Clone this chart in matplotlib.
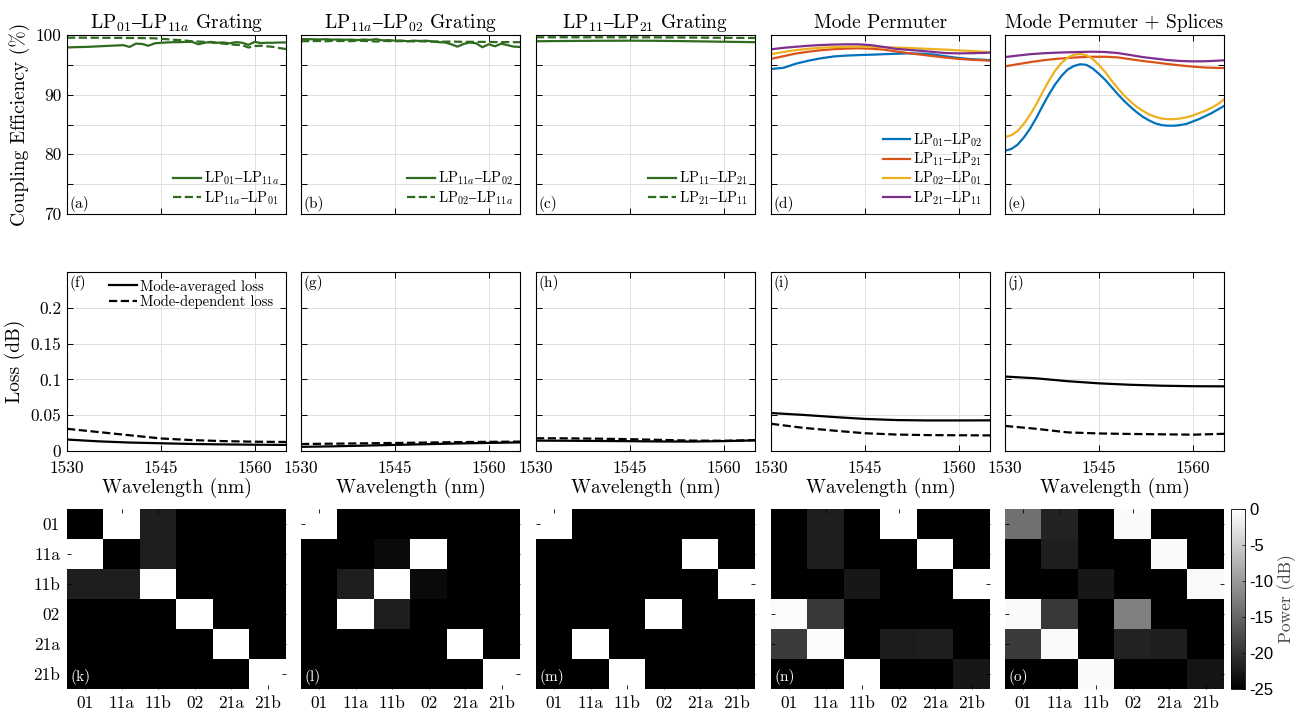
import numpy as np
import matplotlib
matplotlib.use('Agg')
import matplotlib.pyplot as plt

plt.rcParams['font.family'] = ['cmr10', 'DejaVu Serif']
plt.rcParams['mathtext.fontset'] = 'cm'
plt.rcParams['axes.formatter.use_mathtext'] = True
plt.rcParams['axes.unicode_minus'] = False

# ---------------- data ----------------
wl_1nm = list(range(1530, 1566))
wl_2nm = list(range(1530, 1565, 2)) + [1565]
wl_5nm = list(range(1530, 1566, 5))

titles = [r'LP$_{01}–$LP$_{11a}$ Grating', r'LP$_{11a}–$LP$_{02}$ Grating',
          r'LP$_{11}–$LP$_{21}$ Grating', 'Mode Permuter', 'Mode Permuter + Splices']

# (a) LP01-LP11a grating
a_fwd = [97.9, 97.95, 97.98, 98.0, 98.05, 98.1, 98.15, 98.2, 98.25, 98.3, 98.0, 98.55,
         98.5, 98.2, 98.6, 98.7, 98.75, 98.8, 98.8, 98.85, 98.85, 98.45, 98.7, 98.85,
         98.7, 98.75, 98.6, 98.8, 98.7, 98.35, 98.85, 98.65, 98.7, 98.7, 98.75, 98.75]
a_bwd = [99.55, 99.55, 99.55, 99.55, 99.54, 99.54, 99.53, 99.53, 99.52, 99.52, 99.5, 99.5,
         99.48, 99.47, 99.45, 99.35, 99.3, 99.2, 99.15, 99.05, 98.95, 98.9, 98.85, 98.75,
         98.65, 98.55, 98.45, 98.35, 98.3, 97.9, 98.15, 98.2, 98.1, 98.0, 97.8, 97.65]
# (b) LP11a-LP02 grating
b_fwd = [99.33, 99.3, 99.28, 99.25, 99.3, 99.22, 99.25, 99.2, 99.23, 99.15, 99.25, 99.18,
         99.3, 99.1, 99.15, 99.05, 99.08, 98.95, 99.05, 99.0, 99.05, 98.9, 98.8, 98.75,
         98.45, 98.05, 98.5, 98.75, 98.6, 97.95, 98.45, 98.1, 98.55, 98.3, 98.05, 98.0]
b_bwd = [98.95, 98.97, 98.98, 99.0, 98.95, 99.02, 98.98, 99.0, 98.96, 99.05, 99.0, 98.98,
         98.9, 99.0, 98.98, 98.95, 98.97, 98.95, 98.93, 98.95, 98.92, 98.9, 98.92, 98.88,
         98.9, 98.87, 98.85, 98.86, 98.84, 98.85, 98.83, 98.82, 98.8, 98.82, 98.8, 98.8]
# (c) LP11-LP21 grating
c_fwd = [98.95, 99.0, 99.03, 99.05, 99.02, 98.95, 98.87, 98.8]
c_bwd = [99.62, 99.62, 99.62, 99.62, 99.6, 99.57, 99.53, 99.5]
# (d) Mode permuter
d_01_02 = [94.3, 94.5, 95.2, 95.7, 96.1, 96.4, 96.55, 96.63, 96.7, 96.78, 96.86, 96.92,
           96.88, 96.72, 96.42, 96.15, 95.95, 95.85, 95.8]
d_11_21 = [96.0, 96.45, 96.9, 97.2, 97.45, 97.62, 97.72, 97.77, 97.7, 97.55, 97.25, 96.95,
           96.7, 96.45, 96.2, 96.0, 95.85, 95.75, 95.7]
d_02_01 = [96.8, 97.15, 97.47, 97.7, 97.86, 97.96, 98.02, 98.05, 98.03, 97.96, 97.89, 97.82,
           97.73, 97.64, 97.54, 97.43, 97.32, 97.18, 97.1]
d_21_11 = [97.6, 97.85, 98.03, 98.2, 98.32, 98.4, 98.44, 98.44, 98.3, 98.0, 97.68, 97.5,
           97.35, 97.15, 96.97, 96.92, 96.95, 97.0, 97.05]
# (e) Mode permuter + splices
e_01_02 = [80.6, 80.9, 81.6, 82.8, 84.3, 86.1, 88.1, 90.0, 91.7, 93.1, 94.2, 94.8,
           95.1, 95.0, 94.4, 93.5, 92.5, 91.3, 90.1, 89.0, 88.0, 87.1, 86.3, 85.7,
           85.2, 84.9, 84.8, 84.8, 84.9, 85.1, 85.5, 85.9, 86.4, 86.9, 87.5, 88.1]
e_02_01 = [82.9, 83.2, 83.9, 85.1, 86.6, 88.4, 90.4, 92.3, 94.0, 95.3, 96.2, 96.7,
           96.8, 96.6, 96.0, 95.0, 93.8, 92.4, 91.1, 89.9, 88.9, 88.0, 87.3, 86.7,
           86.3, 86.0, 85.9, 85.9, 86.0, 86.2, 86.5, 86.9, 87.3, 87.8, 88.4, 89.2]
e_11_21 = [94.75, 95.1, 95.45, 95.75, 95.98, 96.15, 96.28, 96.35, 96.35, 96.25, 95.95, 95.65,
           95.4, 95.14, 94.9, 94.7, 94.55, 94.48, 94.47]
e_21_11 = [96.3, 96.55, 96.78, 96.93, 97.03, 97.1, 97.15, 97.2, 97.15, 96.98, 96.65, 96.3,
           96.05, 95.8, 95.65, 95.58, 95.6, 95.7, 95.76]

# Loss (dB): mode-averaged loss (mal) / mode-dependent loss (mdl)
f_mal = [0.016, 0.0135, 0.0118, 0.0108, 0.0098, 0.0092, 0.0088, 0.0085]
f_mdl = [0.031, 0.0265, 0.022, 0.0175, 0.0152, 0.0138, 0.013, 0.0126]
g_mal = [0.0058, 0.0065, 0.0075, 0.0085, 0.0095, 0.0105, 0.0113, 0.012]
g_mdl = [0.0098, 0.0102, 0.0107, 0.0112, 0.0118, 0.0124, 0.0128, 0.0131]
h_mal = [0.0145, 0.0143, 0.014, 0.0137, 0.0133, 0.0132, 0.0138, 0.0148]
h_mdl = [0.0178, 0.0177, 0.0172, 0.0165, 0.0155, 0.0145, 0.0143, 0.0152]
i_mal = [0.053, 0.0505, 0.0475, 0.0448, 0.0432, 0.0427, 0.0427, 0.0428]
i_mdl = [0.038, 0.0325, 0.0285, 0.0248, 0.023, 0.0222, 0.022, 0.0218]
j_mal = [0.104, 0.1015, 0.0975, 0.0945, 0.0925, 0.0912, 0.0905, 0.0903]
j_mdl = [0.035, 0.031, 0.026, 0.0245, 0.0238, 0.0233, 0.0228, 0.024]

# Power transfer matrices (dB)
modes = ['01', '11a', '11b', '02', '21a', '21b']
k_mat = [[-25, 0, -22, -25, -25, -25],
         [0, -25, -22, -25, -25, -25],
         [-22, -22, 0, -25, -25, -25],
         [-25, -25, -25, 0, -25, -25],
         [-25, -25, -25, -25, 0, -25],
         [-25, -25, -25, -25, -25, 0]]
l_mat = [[0, -25, -25, -25, -25, -25],
         [-25, -25, -24, 0, -25, -25],
         [-25, -22, 0, -24, -25, -25],
         [-25, 0, -22, -25, -25, -25],
         [-25, -25, -25, -25, 0, -25],
         [-25, -25, -25, -25, -25, 0]]
m_mat = [[0, -25, -25, -25, -25, -25],
         [-25, -25, -25, -25, 0, -25],
         [-25, -25, -25, -25, -25, 0],
         [-25, -25, -25, 0, -25, -25],
         [-25, 0, -25, -25, -25, -25],
         [-25, -25, 0, -25, -25, -25]]
n_mat = [[-25, -22, -25, 0, -25, -25],
         [-25, -22, -25, -25, 0, -25],
         [-25, -25, -22.7, -25, -25, 0],
         [-0.4, -19.5, -25, -25, -25, -25],
         [-19.2, -0.3, -25, -22.2, -22, -25],
         [-25, -25, 0, -25, -25, -22.7]]
o_mat = [[-14, -21.5, -25, -0.5, -25, -25],
         [-25, -22, -25, -25, -0.5, -25],
         [-25, -25, -22.7, -25, -25, -0.5],
         [-0.5, -19.5, -25, -12.5, -25, -25],
         [-19.2, -0.5, -25, -21.6, -22, -25],
         [-25, -25, -0.5, -25, -25, -23]]

# ---------------- styling ----------------
GREEN = '#2f6b1f'
C_BLUE, C_RED, C_YEL, C_PUR = '#0072BD', '#D95319', '#EDB120', '#7E2F8E'
GRID = '#e0e0e0'

W, H = 1302, 710
fig = plt.figure(figsize=(W / 100, H / 100), dpi=100)

col_x = [67, 301, 536, 771, 1005]
pw = 219
rows_top = [35, 272, 509]
ph = 179


def add_ax(ci, ri, hgt=ph):
    return fig.add_axes([col_x[ci] / W, 1 - (rows_top[ri] + hgt) / H, pw / W, hgt / H])


def style_line_ax(ax, xpad=4):
    ax.set_xlim(1530, 1565)
    ax.set_xticks([1530, 1545, 1560])
    ax.grid(True, color=GRID, lw=0.7)
    ax.set_axisbelow(True)
    ax.tick_params(direction='in', top=True, right=True, length=4, width=0.7,
                   labelsize=12.5, pad=4)
    ax.tick_params(axis='x', pad=xpad)
    for s in ax.spines.values():
        s.set_linewidth(0.8)


leg_kw = dict(frameon=False, fontsize=10.5, handlelength=1.9, handletextpad=0.2,
              labelspacing=0.12, borderaxespad=0.3, borderpad=0.2)

top_series = [
    [(wl_1nm, a_fwd, '-', GREEN, r'LP$_{01}–$LP$_{11a}$'),
     (wl_1nm, a_bwd, '--', GREEN, r'LP$_{11a}–$LP$_{01}$')],
    [(wl_1nm, b_fwd, '-', GREEN, r'LP$_{11a}–$LP$_{02}$'),
     (wl_1nm, b_bwd, '--', GREEN, r'LP$_{02}–$LP$_{11a}$')],
    [(wl_5nm, c_fwd, '-', GREEN, r'LP$_{11}–$LP$_{21}$'),
     (wl_5nm, c_bwd, '--', GREEN, r'LP$_{21}–$LP$_{11}$')],
    [(wl_2nm, d_01_02, '-', C_BLUE, r'LP$_{01}–$LP$_{02}$'),
     (wl_2nm, d_11_21, '-', C_RED, r'LP$_{11}–$LP$_{21}$'),
     (wl_2nm, d_02_01, '-', C_YEL, r'LP$_{02}–$LP$_{01}$'),
     (wl_2nm, d_21_11, '-', C_PUR, r'LP$_{21}–$LP$_{11}$')],
    [(wl_1nm, e_01_02, '-', C_BLUE, None),
     (wl_2nm, e_11_21, '-', C_RED, None),
     (wl_1nm, e_02_01, '-', C_YEL, None),
     (wl_2nm, e_21_11, '-', C_PUR, None)],
]
top_letters = ['(a)', '(b)', '(c)', '(d)', '(e)']
for ci in range(5):
    ax = add_ax(ci, 0)
    for x, y, ls, c, lab in top_series[ci]:
        ax.plot(x, y, ls, color=c, lw=1.6, label=lab)
    style_line_ax(ax)
    ax.set_ylim(70, 100)
    ax.set_yticks(np.arange(70, 101, 5))
    ax.set_xticklabels([])
    if ci == 0:
        ax.set_yticklabels(['70', '', '80', '', '90', '', '100'])
        ax.set_ylabel('Coupling Efficiency (%)', fontsize=14, labelpad=4)
    else:
        ax.set_yticklabels([])
    ax.set_title(titles[ci], fontsize=14, pad=5)
    ax.text(0.012, 0.01, top_letters[ci], transform=ax.transAxes, fontsize=11,
            ha='left', va='bottom')
    if ci < 4:
        ax.legend(loc='lower right', **leg_kw)

loss_series = [(f_mal, f_mdl), (g_mal, g_mdl), (h_mal, h_mdl), (i_mal, i_mdl), (j_mal, j_mdl)]
mid_letters = ['(f)', '(g)', '(h)', '(i)', '(j)']
for ci in range(5):
    ax = add_ax(ci, 1)
    mal, mdl = loss_series[ci]
    ax.plot(wl_5nm, mal, '-', color='black', lw=1.6, label='Mode-averaged loss')
    ax.plot(wl_5nm, mdl, '--', color='black', lw=1.6, label='Mode-dependent loss')
    style_line_ax(ax, xpad=7)
    ax.set_ylim(0, 0.25)
    ax.set_yticks([0, 0.05, 0.1, 0.15, 0.2])
    if ci == 0:
        ax.set_yticklabels(['0', '0.05', '0.1', '0.15', '0.2'])
        ax.set_ylabel('Loss (dB)', fontsize=14, labelpad=4)
        ax.legend(loc='upper right', bbox_to_anchor=(0.975, 1.0), **leg_kw)
    else:
        ax.set_yticklabels([])
    ax.set_xticklabels(['1530', '1545', '1560'])
    ax.set_xlabel('Wavelength (nm)', fontsize=14, labelpad=1)
    ax.text(0.012, 0.985, mid_letters[ci], transform=ax.transAxes, fontsize=11,
            ha='left', va='top')

mats = [k_mat, l_mat, m_mat, n_mat, o_mat]
bot_letters = ['(k)', '(l)', '(m)', '(n)', '(o)']
im = None
for ci in range(5):
    ax = add_ax(ci, 2, hgt=180)
    im = ax.imshow(np.array(mats[ci]), cmap='gray', vmin=-25, vmax=0, aspect='auto',
                   interpolation='nearest')
    ax.set_xticks(range(6))
    ax.set_xticklabels(modes)
    ax.set_yticks(range(6))
    if ci == 0:
        ax.set_yticklabels(modes)
    else:
        ax.set_yticklabels([])
    ax.tick_params(direction='in', top=True, right=True, length=3, width=0.6,
                   labelsize=12.5, pad=5)
    for s in ax.spines.values():
        s.set_visible(False)
    ax.text(0.015, 0.02, bot_letters[ci], transform=ax.transAxes, fontsize=11,
            ha='left', va='bottom', color='white')

cax = fig.add_axes([1231 / W, 1 - (509 + 180) / H, 14 / W, 180 / H])
cb = fig.colorbar(im, cax=cax, ticks=[0, -5, -10, -15, -20, -25])
cb.ax.set_yticklabels(['0', '-5', '-10', '-15', '-20', '-25'],
                      fontfamily='Liberation Sans', fontsize=12)
cb.ax.tick_params(direction='in', length=2, width=0.5, pad=3)
cb.outline.set_linewidth(0.6)
cb.set_label('Power (dB)', fontsize=12.5, labelpad=3, color='#444444')

fig.savefig('out.png', dpi=100)
